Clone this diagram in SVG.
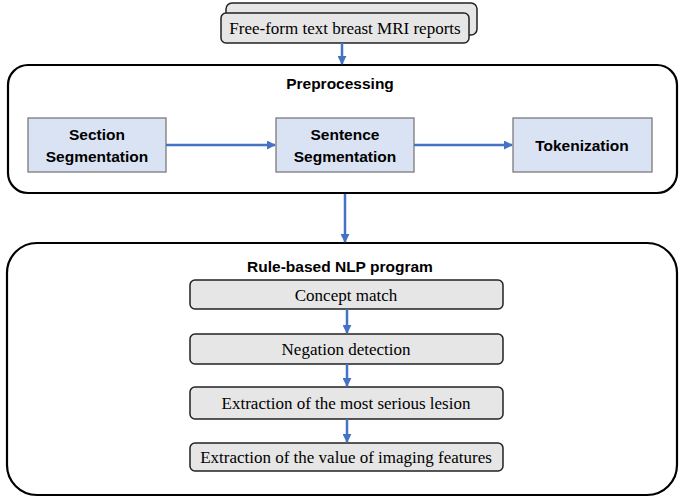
<svg xmlns="http://www.w3.org/2000/svg" width="685" height="499" viewBox="0 0 685 499">
<style>
.sans{font-family:"Liberation Sans",Arial,sans-serif;font-weight:bold;font-size:15.5px;fill:#000;text-anchor:middle}
.serif{font-family:"Liberation Serif","Times New Roman",serif;font-size:17px;fill:#000;text-anchor:middle}
.blue{fill:#dae3f3;stroke:#7a7a7a;stroke-width:1.3}
.grey{fill:#e6e6e6;stroke:#222;stroke-width:1.5}
.panel{fill:#fff;stroke:#000;stroke-width:2.2}
.conn{stroke:#4472c4;stroke-width:2.5;fill:none;marker-end:url(#ah)}
</style>
<defs>
<marker id="ah" viewBox="0 0 10 10" refX="9" refY="5" markerWidth="3.6" markerHeight="3.6" orient="auto" markerUnits="strokeWidth">
<path d="M0,0 L10,5 L0,10 z" fill="#4472c4"/>
</marker>
</defs>
<rect width="685" height="499" fill="#fff"/>
<g id="reports">
<rect x="226" y="3" width="251" height="32" rx="6" class="grey" stroke-width="2"/>
<rect x="221" y="13" width="248" height="30" rx="5" class="grey" stroke-width="2"/>
<text x="345" y="34" class="serif" font-size="17.3">Free-form text breast MRI reports</text>
</g>
<g id="preprocessing">
<rect x="8" y="65" width="669" height="128" rx="20" class="panel"/>
<text x="340" y="89" class="sans">Preprocessing</text>
</g>
<g id="section">
<rect x="28" y="118" width="138" height="54" class="blue"/>
<text x="97" y="140" class="sans" font-size="16">Section</text>
<text x="97" y="162" class="sans" font-size="16">Segmentation</text>
</g>
<g id="sentence">
<rect x="276" y="118" width="138" height="54" class="blue"/>
<text x="345" y="140" class="sans" font-size="16">Sentence</text>
<text x="345" y="162" class="sans" font-size="16">Segmentation</text>
</g>
<g id="tokenization">
<rect x="513" y="118" width="139" height="54" class="blue"/>
<text x="582" y="151" class="sans" font-size="16">Tokenization</text>
</g>
<g id="rulebased">
<rect x="7" y="243" width="670" height="252" rx="30" class="panel"/>
<text x="340" y="272" class="sans" font-size="16">Rule-based NLP program</text>
</g>
<g id="concept">
<rect x="190" y="280" width="313" height="29" rx="5" class="grey"/>
<text x="346" y="301" class="serif">Concept match</text>
</g>
<g id="negation">
<rect x="190" y="334" width="313" height="30" rx="5" class="grey"/>
<text x="346" y="355" class="serif">Negation detection</text>
</g>
<g id="lesion">
<rect x="190" y="387" width="313" height="32" rx="5" class="grey"/>
<text x="346" y="409" class="serif">Extraction of the most serious lesion</text>
</g>
<g id="features">
<rect x="190" y="443" width="313" height="28" rx="5" class="grey"/>
<text x="346" y="463" class="serif">Extraction of the value of imaging features</text>
</g>
<g id="connectors">
<line x1="342" y1="43" x2="342" y2="64" class="conn"/>
<line x1="166" y1="145" x2="275" y2="145" class="conn"/>
<line x1="414" y1="145" x2="512" y2="145" class="conn"/>
<line x1="345" y1="194" x2="345" y2="242" class="conn"/>
<line x1="347" y1="309" x2="347" y2="333" class="conn"/>
<line x1="347" y1="364" x2="347" y2="386" class="conn"/>
<line x1="347" y1="419" x2="347" y2="442" class="conn"/>
</g>
</svg>
